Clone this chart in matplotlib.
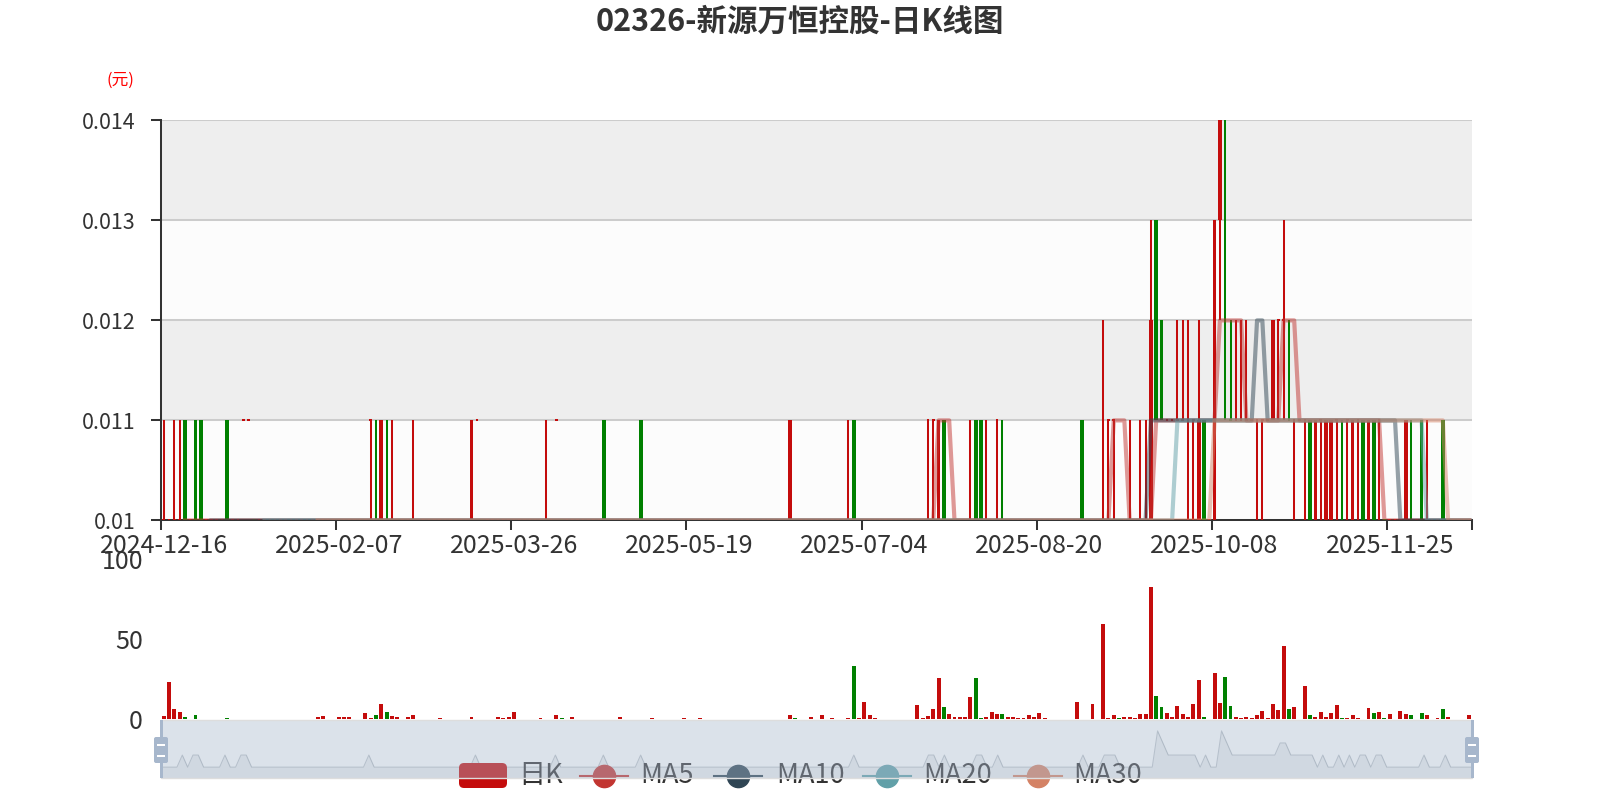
import numpy as np
import pandas as pd
import matplotlib
matplotlib.use("Agg")
import matplotlib.pyplot as plt
from matplotlib.patches import Rectangle, FancyBboxPatch
from matplotlib.lines import Line2D

plt.rcParams['font.family'] = ['Noto Sans CJK SC', 'DejaVu Sans']

title = '02326-新源万恒控股-日K线图'
unit_label = '(元)'
tick_labels = ['2024-12-16', '2025-02-07', '2025-03-26', '2025-05-19',
               '2025-07-04', '2025-08-20', '2025-10-08', '2025-11-25']
label_every = 33

# daily prices in 0.001 yuan, ten trading days per row
open_k = [10, 10, 10, 10, 11, 10, 11, 11, 10, 10,
          10, 10, 11, 10, 10, 11, 11, 10, 10, 10,
          10, 10, 10, 10, 10, 10, 10, 10, 10, 10,
          10, 10, 10, 10, 10, 10, 10, 10, 10, 11,
          10, 10, 10, 10, 10, 10, 10, 10, 10, 10,
          10, 10, 10, 10, 10, 10, 10, 10, 10, 11,
          10, 10, 10, 10, 10, 10, 10, 10, 10, 10,
          10, 10, 10, 10, 11, 10, 10, 10, 10, 10,
          10, 10, 10, 11, 10, 10, 10, 10, 10, 10,
          11, 10, 10, 10, 10, 10, 10, 10, 10, 10,
          10, 10, 10, 10, 10, 10, 10, 10, 10, 10,
          10, 10, 10, 10, 10, 10, 10, 10, 10, 10,
          10, 10, 10, 10, 10, 10, 10, 10, 10, 10,
          11, 10, 10, 10, 10, 10, 10, 10, 10, 10,
          10, 10, 10, 10, 11, 11, 10, 11, 10, 10,
          10, 10, 10, 11, 11, 10, 10, 11, 10, 10,
          10, 10, 10, 10, 10, 10, 10, 10, 10, 10,
          10, 10, 10, 11, 10, 10, 10, 11, 11, 11,
          10, 10, 10, 10, 10, 10, 10, 13, 12, 11,
          11, 11, 11, 11, 11, 10, 11, 10, 10, 13,
          12, 11, 11, 11, 11, 11, 11, 11, 11, 11,
          12, 12, 11, 11, 11, 11, 11, 10, 11, 10,
          10, 11, 10, 11, 10, 11, 11, 10, 11, 11,
          10, 10, 10, 10, 10, 10, 10, 11, 10, 10,
          10, 11, 10, 10, 10, 10, 10]
high_k = [11, 10, 11, 11, 11, 10, 11, 11, 10, 10,
          10, 10, 11, 10, 10, 11, 11, 10, 10, 10,
          10, 10, 10, 10, 10, 10, 10, 10, 10, 10,
          10, 10, 10, 10, 10, 10, 10, 10, 10, 11,
          11, 11, 11, 11, 10, 10, 10, 11, 10, 10,
          10, 10, 10, 10, 10, 10, 10, 10, 11, 11,
          10, 10, 10, 10, 10, 10, 10, 10, 10, 10,
          10, 10, 11, 10, 11, 10, 10, 10, 10, 10,
          10, 10, 10, 11, 10, 10, 10, 10, 10, 10,
          11, 10, 10, 10, 10, 10, 10, 10, 10, 10,
          10, 10, 10, 10, 10, 10, 10, 10, 10, 10,
          10, 10, 10, 10, 10, 10, 10, 10, 11, 10,
          10, 10, 10, 10, 10, 10, 10, 10, 10, 11,
          11, 10, 10, 10, 10, 10, 10, 10, 10, 10,
          10, 10, 10, 10, 11, 11, 11, 11, 10, 10,
          10, 10, 11, 11, 11, 11, 10, 11, 11, 10,
          10, 10, 10, 10, 10, 10, 10, 10, 10, 10,
          10, 10, 10, 11, 10, 10, 10, 12, 11, 11,
          10, 10, 11, 10, 11, 11, 13, 13, 12, 11,
          11, 12, 12, 12, 11, 12, 11, 10, 13, 14,
          14, 12, 12, 12, 12, 11, 11, 11, 11, 12,
          12, 13, 12, 11, 11, 11, 11, 11, 11, 11,
          11, 11, 11, 11, 11, 11, 11, 11, 11, 11,
          10, 10, 10, 10, 11, 11, 10, 11, 11, 10,
          10, 11, 10, 10, 10, 10, 10]
low_k = [10, 10, 10, 10, 10, 10, 10, 10, 10, 10,
         10, 10, 10, 10, 10, 11, 11, 10, 10, 10,
         10, 10, 10, 10, 10, 10, 10, 10, 10, 10,
         10, 10, 10, 10, 10, 10, 10, 10, 10, 10,
         10, 10, 10, 10, 10, 10, 10, 10, 10, 10,
         10, 10, 10, 10, 10, 10, 10, 10, 10, 11,
         10, 10, 10, 10, 10, 10, 10, 10, 10, 10,
         10, 10, 10, 10, 11, 10, 10, 10, 10, 10,
         10, 10, 10, 10, 10, 10, 10, 10, 10, 10,
         10, 10, 10, 10, 10, 10, 10, 10, 10, 10,
         10, 10, 10, 10, 10, 10, 10, 10, 10, 10,
         10, 10, 10, 10, 10, 10, 10, 10, 10, 10,
         10, 10, 10, 10, 10, 10, 10, 10, 10, 10,
         10, 10, 10, 10, 10, 10, 10, 10, 10, 10,
         10, 10, 10, 10, 10, 10, 10, 10, 10, 10,
         10, 10, 10, 10, 10, 10, 10, 10, 10, 10,
         10, 10, 10, 10, 10, 10, 10, 10, 10, 10,
         10, 10, 10, 10, 10, 10, 10, 10, 10, 10,
         10, 10, 10, 10, 10, 10, 10, 11, 11, 11,
         11, 11, 11, 10, 10, 10, 10, 10, 10, 12,
         11, 11, 11, 11, 11, 11, 10, 10, 11, 11,
         11, 11, 11, 10, 11, 10, 10, 10, 10, 10,
         10, 10, 10, 10, 10, 10, 10, 10, 10, 10,
         10, 10, 10, 10, 10, 10, 10, 10, 10, 10,
         10, 10, 10, 10, 10, 10, 10]
close_k = [10, 10, 10, 10, 10, 10, 10, 10, 10, 10,
           10, 10, 10, 10, 10, 11, 11, 10, 10, 10,
           10, 10, 10, 10, 10, 10, 10, 10, 10, 10,
           10, 10, 10, 10, 10, 10, 10, 10, 10, 11,
           10, 11, 10, 10, 10, 10, 10, 10, 10, 10,
           10, 10, 10, 10, 10, 10, 10, 10, 11, 11,
           10, 10, 10, 10, 10, 10, 10, 10, 10, 10,
           10, 10, 10, 10, 11, 10, 10, 10, 10, 10,
           10, 10, 10, 10, 10, 10, 10, 10, 10, 10,
           10, 10, 10, 10, 10, 10, 10, 10, 10, 10,
           10, 10, 10, 10, 10, 10, 10, 10, 10, 10,
           10, 10, 10, 10, 10, 10, 10, 10, 11, 10,
           10, 10, 10, 10, 10, 10, 10, 10, 10, 10,
           10, 10, 10, 10, 10, 10, 10, 10, 10, 10,
           10, 10, 10, 10, 11, 11, 11, 10, 10, 10,
           10, 10, 10, 10, 10, 10, 10, 11, 10, 10,
           10, 10, 10, 10, 10, 10, 10, 10, 10, 10,
           10, 10, 10, 10, 10, 10, 10, 11, 11, 11,
           10, 10, 10, 10, 10, 10, 12, 11, 11, 11,
           11, 11, 11, 11, 11, 11, 10, 10, 13, 14,
           12, 11, 11, 11, 11, 11, 11, 11, 11, 12,
           12, 12, 11, 11, 11, 11, 10, 11, 11, 11,
           11, 11, 10, 11, 11, 11, 10, 11, 10, 11,
           10, 10, 10, 10, 11, 10, 10, 10, 10, 10,
           10, 10, 10, 10, 10, 10, 10]
# volume (成交量)
volume = [2.1, 23.6, 6.5, 4.4, 1.6, 0.4, 3.0, 0.4, 0.4, 0.4,
          0.4, 0.4, 0.6, 0.3, 0.3, 0.4, 0.4, 0.3, 0.3, 0.4,
          0.3, 0.4, 0.3, 0.3, 0.4, 0.3, 0.3, 0.4, 0.3, 1.3,
          2.1, 0.4, 0.4, 1.8, 1.8, 1.8, 0.4, 0.3, 3.8, 1.0,
          2.7, 9.4, 4.8, 2.1, 1.3, 0.4, 1.4, 2.7, 0.3, 0.3,
          0.3, 0.4, 0.8, 0.3, 0.3, 0.3, 0.4, 0.3, 1.2, 0.5,
          0.4, 0.3, 0.3, 1.8, 0.8, 1.2, 4.8, 0.3, 0.3, 0.3,
          0.3, 0.8, 0.4, 0.3, 3.0, 0.8, 0.3, 1.2, 0.3, 0.3,
          0.3, 0.3, 0.3, 0.5, 0.3, 0.3, 1.3, 0.3, 0.3, 0.3,
          0.5, 0.3, 0.8, 0.3, 0.3, 0.3, 0.3, 0.3, 0.8, 0.3,
          0.3, 0.6, 0.3, 0.3, 0.3, 0.3, 0.3, 0.3, 0.3, 0.3,
          0.3, 0.3, 0.3, 0.3, 0.3, 0.3, 0.3, 0.3, 2.7, 1.0,
          0.3, 0.3, 1.5, 0.3, 2.7, 0.3, 1.0, 0.3, 0.3, 1.0,
          33.4, 1.0, 10.9, 2.7, 1.0, 0.3, 0.3, 0.3, 0.3, 0.3,
          0.3, 0.3, 8.8, 1.0, 2.0, 6.5, 25.5, 8.0, 3.3, 1.5,
          1.5, 1.5, 14.2, 26.0, 1.0, 1.5, 4.8, 3.5, 3.3, 1.5,
          1.5, 1.0, 1.0, 2.5, 1.5, 4.0, 1.0, 0.3, 0.3, 0.3,
          0.3, 0.3, 10.6, 0.5, 0.3, 9.4, 0.3, 59.4, 1.0, 2.5,
          1.0, 1.5, 1.5, 0.7, 3.5, 3.3, 82.7, 14.6, 7.5, 3.8,
          1.5, 8.4, 3.3, 1.3, 9.4, 24.6, 1.2, 0.5, 28.8, 10.2,
          26.7, 8.6, 1.5, 1.0, 1.5, 1.0, 2.5, 5.2, 1.0, 9.4,
          5.6, 45.9, 6.5, 8.0, 0.5, 20.9, 2.5, 1.5, 4.5, 1.5,
          4.0, 9.2, 0.8, 0.8, 2.5, 1.0, 0.5, 6.8, 4.0, 4.8,
          1.0, 3.3, 0.3, 5.0, 3.3, 2.5, 0.3, 3.8, 2.5, 0.3,
          1.0, 6.5, 1.2, 0.3, 0.3, 0.3, 3.0]

ma_windows = [5, 10, 20, 30]
ma_names = ['MA5', 'MA10', 'MA20', 'MA30']
ma_colors = ['#c23531', '#2f4554', '#61a0a8', '#d48265']
up_c = '#c40c0c'
dn_c = '#008000'

n = len(close_k)
x = np.arange(n) + 0.5
o = np.array(open_k) / 1000
h = np.array(high_k) / 1000
l = np.array(low_k) / 1000
c = np.array(close_k) / 1000

# echarts colouring: flat candles compare with previous close
sign = np.where(c > o, 1, np.where(c < o, -1, 0))
for i in range(n):
    if sign[i] == 0:
        sign[i] = 1 if i == 0 or close_k[i - 1] <= close_k[i] else -1
cols = np.where(sign > 0, up_c, dn_c)

W, H = 1600, 800
def box(left, top, right, bottom):
    return [left / W, 1 - bottom / H, (right - left) / W, (bottom - top) / H]

fig = plt.figure(figsize=(16, 8), dpi=100)
fig.patch.set_facecolor('white')

# ---- price panel
ax = fig.add_axes(box(161, 120.4, 1472, 520.4))
levels = [0.010, 0.011, 0.012, 0.013, 0.014]
for k in range(4):
    ax.axhspan(levels[k], levels[k + 1], color=['#fcfcfc', '#eeeeee'][k % 2], lw=0, zorder=0)
for lv in levels[1:]:
    ax.axhline(lv, color='#cccccc', lw=1.45, zorder=1)

ax.vlines(x, l, h, colors=cols, lw=1.45, zorder=3)
body = o != c
ax.bar(x[body], np.abs(c - o)[body], bottom=np.minimum(o, c)[body], width=0.72,
       color=cols[body], lw=0, zorder=3)
flat = ~body
ax.hlines(c[flat], x[flat] - 0.24, x[flat] + 0.24, colors=cols[flat], lw=1.45, zorder=3)

close_s = pd.Series(close_k, dtype=float)
for w, col in zip(ma_windows, ma_colors):
    ma = np.floor(close_s.rolling(w).sum() / w + 0.5) / 1000
    ax.plot(x, ma, color=col, alpha=0.5, lw=3.0, zorder=4, solid_joinstyle='round')

ax.set_xlim(0, n)
ax.set_ylim(0.010, 0.014)
ax.set_yticks(levels)
ax.set_yticklabels(['0.01', '0.011', '0.012', '0.013', '0.014'])
ax.tick_params(axis='y', length=7.2, width=1.45, color='#333333', pad=11,
               labelsize=15.5, labelcolor='#333333')
major = list(np.arange(0, n, label_every)) + [n]
ax.set_xticks(major)
ax.set_xticklabels([''] * len(major))
ax.set_xticks(np.arange(0, n, label_every) + 0.5, minor=True)
ax.set_xticklabels(tick_labels, minor=True)
ax.tick_params(axis='x', which='major', length=7.2, width=1.45, color='#333333')
ax.tick_params(axis='x', which='minor', length=0, pad=9, labelsize=18, labelcolor='#333333')
for s in ['top', 'right']:
    ax.spines[s].set_visible(False)
for s in ['left', 'bottom']:
    ax.spines[s].set_color('#333333')
    ax.spines[s].set_linewidth(1.45)

# ---- volume panel
axv = fig.add_axes(box(161, 559, 1472, 719.4))
axv.bar(x, volume, width=0.75, color=cols, lw=0)
axv.set_xlim(0, n)
axv.set_ylim(0, 100)
axv.set_yticks([0, 50, 100])
axv.set_xticks([])
axv.tick_params(axis='y', length=0, pad=13, labelsize=18, labelcolor='#333333')
for s in axv.spines.values():
    s.set_visible(False)
axv.patch.set_alpha(0)

# ---- data zoom slider with shadow of the opens
axs = fig.add_axes(box(161, 720, 1472, 778))
lo, hi = o.min(), o.max()
pad = (hi - lo) * 0.3
axs.set_xlim(0, n - 1)
axs.set_ylim(lo - pad, hi + pad)
axs.fill_between(np.arange(n), lo - pad, o, color='#2f4554', alpha=0.09, lw=0)
axs.plot(np.arange(n), o, color='#2f4554', alpha=0.3, lw=0.75)
axs.axis('off')

ov = fig.add_axes([0, 0, 1, 1], zorder=10)
ov.set_xlim(0, W)
ov.set_ylim(H, 0)
ov.axis('off')
ov.patch.set_alpha(0)

# legend sits under the slider filler
ly = 775.5
ov.add_patch(FancyBboxPatch((459, 763), 48, 25, boxstyle='round,pad=0,rounding_size=5',
                            fc=up_c, ec='none', zorder=1))
ov.text(518, ly, '日K', va='center', ha='left', fontsize=19.5, color='#333333', zorder=1)
icon_x = [580, 714, 863, 1014]
text_x = [640, 776, 923, 1073]
for name, col, ix, tx in zip(ma_names, ma_colors, icon_x, text_x):
    ov.add_line(Line2D([ix, ix + 48], [ly, ly], color=col, lw=1.5, zorder=1))
    ov.plot([ix + 24], [ly], marker='o', ms=16, color=col, mec=col, zorder=1)
    ov.text(tx, ly, name, va='center', ha='left', fontsize=19.5, color='#333333', zorder=1)

ov.add_patch(Rectangle((161, 720), 1311, 58, fc=(167 / 255, 183 / 255, 204 / 255, 0.4),
                       ec='#dddddd', lw=1, zorder=3))
for hx in [161, 1472]:
    ov.add_patch(Rectangle((hx - 1.5, 720), 3, 58, fc='#a7b7cc', ec='none', zorder=4))
    ov.add_patch(FancyBboxPatch((hx - 7, 737), 14, 26, boxstyle='round,pad=0,rounding_size=2',
                                fc='#a7b7cc', ec='none', zorder=4))
    for wy in [744, 755]:
        ov.add_patch(Rectangle((hx - 4, wy), 8, 2, fc='white', ec='none', zorder=5))

fig.text(0.5, 1 - 22 / H, title, ha='center', va='center', fontsize=22,
         fontweight='bold', color='#333333')
fig.text(120 / W, 1 - 80 / H, unit_label, ha='center', va='center', fontsize=12, color='red')

fig.savefig('out.png', dpi=100)
